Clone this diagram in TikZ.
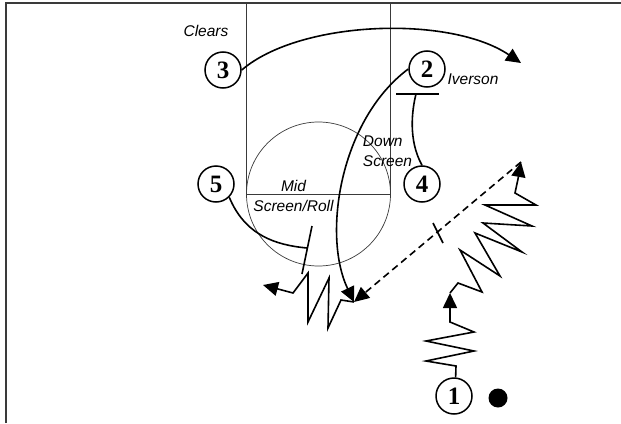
\documentclass[tikz,border=0pt]{standalone}
\usepackage{fontspec}
\usepackage{tikz}
\usetikzlibrary{arrows.meta, positioning, calc}
\setmainfont{Liberation Sans}
\newfontfamily\numfont{Liberation Serif}
\definecolor{CourtLine}{HTML}{3A3A3A}

\begin{document}
\begin{tikzpicture}[x=1pt, y=-1pt,
    player/.style={circle, draw, line width=1.5pt, minimum size=36pt, inner sep=0pt,
      font=\numfont\bfseries\fontsize{25}{25}\selectfont},
    lbl/.style={font=\itshape\fontsize{15.5}{20}\selectfont, inner sep=0pt},
    move/.style={line width=1.6pt},
    pass/.style={line width=1.6pt, dash pattern=on 7pt off 4.5pt},
    >={Triangle[length=15pt, width=14pt]}
  ]
    \useasboundingbox (0,0) rectangle (621,423);
    % frame and half court
    \draw[CourtLine, line width=1.4pt] (6,423) -- (6,3) -- (621,3);
    \draw[CourtLine, line width=0.7pt] (246.5,3) rectangle (390.5,194);
    \draw[CourtLine, line width=0.7pt] (318.5,194) circle[radius=72pt];

    \node[player] (p3) at (223,70) {3};
    \node[player] (p2) at (427,69) {2};
    \node[player] (p5) at (216,184) {5};
    \node[player] (p4) at (422,184) {4};
    \node[player] (p1) at (454,396) {1};
    \node[circle, fill, minimum size=19pt, inner sep=0pt] (ball) at (498,398) {};

    \node[lbl] (clears) at (206,31) {Clears};
    \node[lbl] (iverson) at (473,79) {Iverson};
    \node[lbl, align=left] (down) at (387.5,151) {Down\\Screen};
    \node[lbl, align=center] (mid) at (293.5,195.5) {Mid\\Screen/Roll};

    \coordinate (clr) at (521,63);
    \coordinate (t2) at (416,94);
    \coordinate (t5) at (307,248);
    \coordinate (catch) at (354,302);
    \coordinate (dr1) at (450,293);
    \coordinate (dr2) at (521,162);
    \coordinate (lft) at (263,285);

    % 3 clears
    \draw[move, ->] (p3.east) .. controls (300,20) and (450,15) .. (clr);
    % 4 down screen for 2
    \draw[move] (p4.north) .. controls (408,140) and (412,110) .. (t2);
    \draw[move] ($(t2)+(-20,0)$) -- ($(t2)+(23,0)$);
    \draw[move, ->] (p2.west) .. controls (340,120) and (322,235) .. (catch);
    % 5 mid screen
    \draw[move] (p5.-45) .. controls (245,235) and (275,245) .. (t5);
    \draw[move] ($(t5)+(5,-22)$) -- ($(t5)+(-5,26)$);
    % 1 dribbles up, passes
    \draw[move, ->] (p1.85) -- (456,366) -- (426,361) -- (474,351) -- (426,341)
      -- (474,332) -- (450,322) -- (dr1);
    \draw[move, ->] (dr1) -- (458,283) -- (482,292) -- (460,250) -- (500,276)
      -- (475,233) -- (522,252) -- (483,223) -- (532,226) -- (485,205)
      -- (536,205) -- (515,193) -- (518,179) -- (dr2);
    \draw[pass, ->] (dr2) -- (catch);
    \draw[move] (433,223) -- (443,243);
    % 2 dribbles off the screen
    \draw[move, ->] (catch) -- (341,300) -- (328,328) -- (329,278) -- (308,322)
      -- (308,273) -- (293,293) -- (lft);
  \end{tikzpicture}
\end{document}
